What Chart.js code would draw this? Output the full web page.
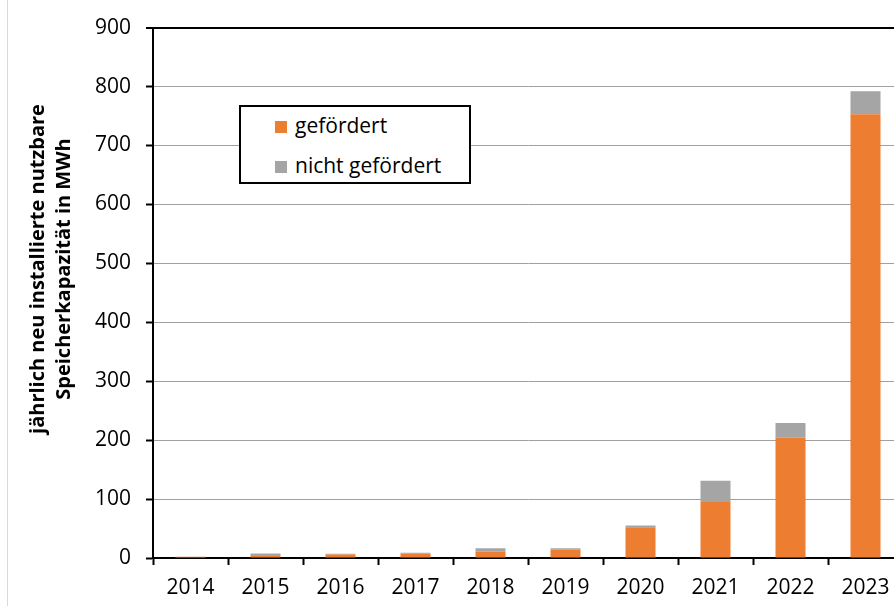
<!DOCTYPE html>
<html lang="de">
<head>
<meta charset="utf-8">
<script src="https://cdn.jsdelivr.net/npm/chart.js@4/dist/chart.umd.min.js"></script>
<style>
  html, body { margin: 0; padding: 0; background: #fff; overflow: hidden; }
  #wrap { position: relative; width: 894px; height: 606px; overflow: hidden; }
  #chart { position: absolute; left: 0; top: 0; }
  #randlinie { position: absolute; left: 7px; top: 0; width: 1px; height: 606px; background: #d9d9d9; }
  #achsentitel {
    position: absolute; width: 420px; height: 52px; left: -160px; top: 243px;
    transform: rotate(-90deg); transform-origin: 50% 50%;
    font: bold 20px "Open Sans", sans-serif; line-height: 26px; text-align: center; color: #000;
  }
  #legende {
    position: absolute; left: 239px; top: 105px; width: 228px; height: 75px;
    border: 2px solid #000; background: #fff;
    font: 21px "Open Sans", sans-serif; color: #000;
  }
  .eintrag { position: absolute; left: 34px; white-space: nowrap; line-height: 24px; }
  .eintrag span { display: inline-block; width: 12px; height: 12px; margin-right: 8px; vertical-align: 0px; }
</style>
</head>
<body>
<div id="wrap">
  <canvas id="chart" width="910" height="606"></canvas>
  <div id="randlinie"></div>
  <div id="achsentitel">jährlich neu installierte nutzbare<br>Speicherkapazität in MWh</div>
  <div id="legende">
    <div class="eintrag" style="top:6px"><span style="background:#ED7D31"></span>gefördert</div>
    <div class="eintrag" style="top:46px"><span style="background:#A5A5A5"></span>nicht gefördert</div>
  </div>
</div>
<script>
// Jahre und Werte (MWh)
const jahre = ['2014', '2015', '2016', '2017', '2018', '2019', '2020', '2021', '2022', '2023'];
const gefoerdert = [2, 3.5, 6, 7, 11, 14.5, 52, 95, 204, 753];
const nichtGefoerdert = [0, 4, 1, 2, 5.5, 2, 3, 36, 25, 39];
const yMax = 900;
const yStep = 100;

const ctx = document.getElementById('chart').getContext('2d');

new Chart(ctx, {
    type: 'bar',
    data: {
        labels: jahre,
        datasets: [
            {
                label: 'gefördert',
                data: gefoerdert,
                backgroundColor: '#ED7D31',
                borderWidth: 0,
                barPercentage: 0.4,
                categoryPercentage: 1.0
            },
            {
                label: 'nicht gefördert',
                data: nichtGefoerdert,
                backgroundColor: '#A5A5A5',
                borderWidth: 0,
                barPercentage: 0.4,
                categoryPercentage: 1.0
            }
        ]
    },
    options: {
        responsive: false,
        animation: false,
        devicePixelRatio: 1,
        layout: { padding: { left: 0, top: 27, right: 7, bottom: 0 } },
        plugins: {
            legend: { display: false },
            tooltip: { enabled: false }
        },
        scales: {
            x: {
                stacked: true,
                afterFit: function(scale) { scale.height = 48; },
                border: { color: '#000', width: 2 },
                grid: {
                    offset: true,
                    drawOnChartArea: false,
                    drawTicks: true,
                    tickLength: 7,
                    tickColor: '#000',
                    tickWidth: 2
                },
                ticks: {
                    color: '#000',
                    padding: 10,
                    maxRotation: 0,
                    font: { family: 'Open Sans', size: 21 }
                }
            },
            y: {
                stacked: true,
                min: 0,
                max: yMax,
                afterFit: function(scale) { scale.width = 153; },
                border: { color: '#000', width: 2 },
                grid: {
                    color: function(c) { return c.tick && c.tick.value === yMax ? '#000' : '#a0a0a0'; },
                    lineWidth: function(c) { return c.tick && c.tick.value === yMax ? 2 : 1; },
                    tickLength: 7,
                    tickColor: '#000',
                    tickWidth: 2
                },
                ticks: {
                    stepSize: yStep,
                    color: '#000',
                    padding: 15,
                    font: { family: 'Open Sans', size: 21 }
                }
            }
        }
    }
});
</script>
</body>
</html>
